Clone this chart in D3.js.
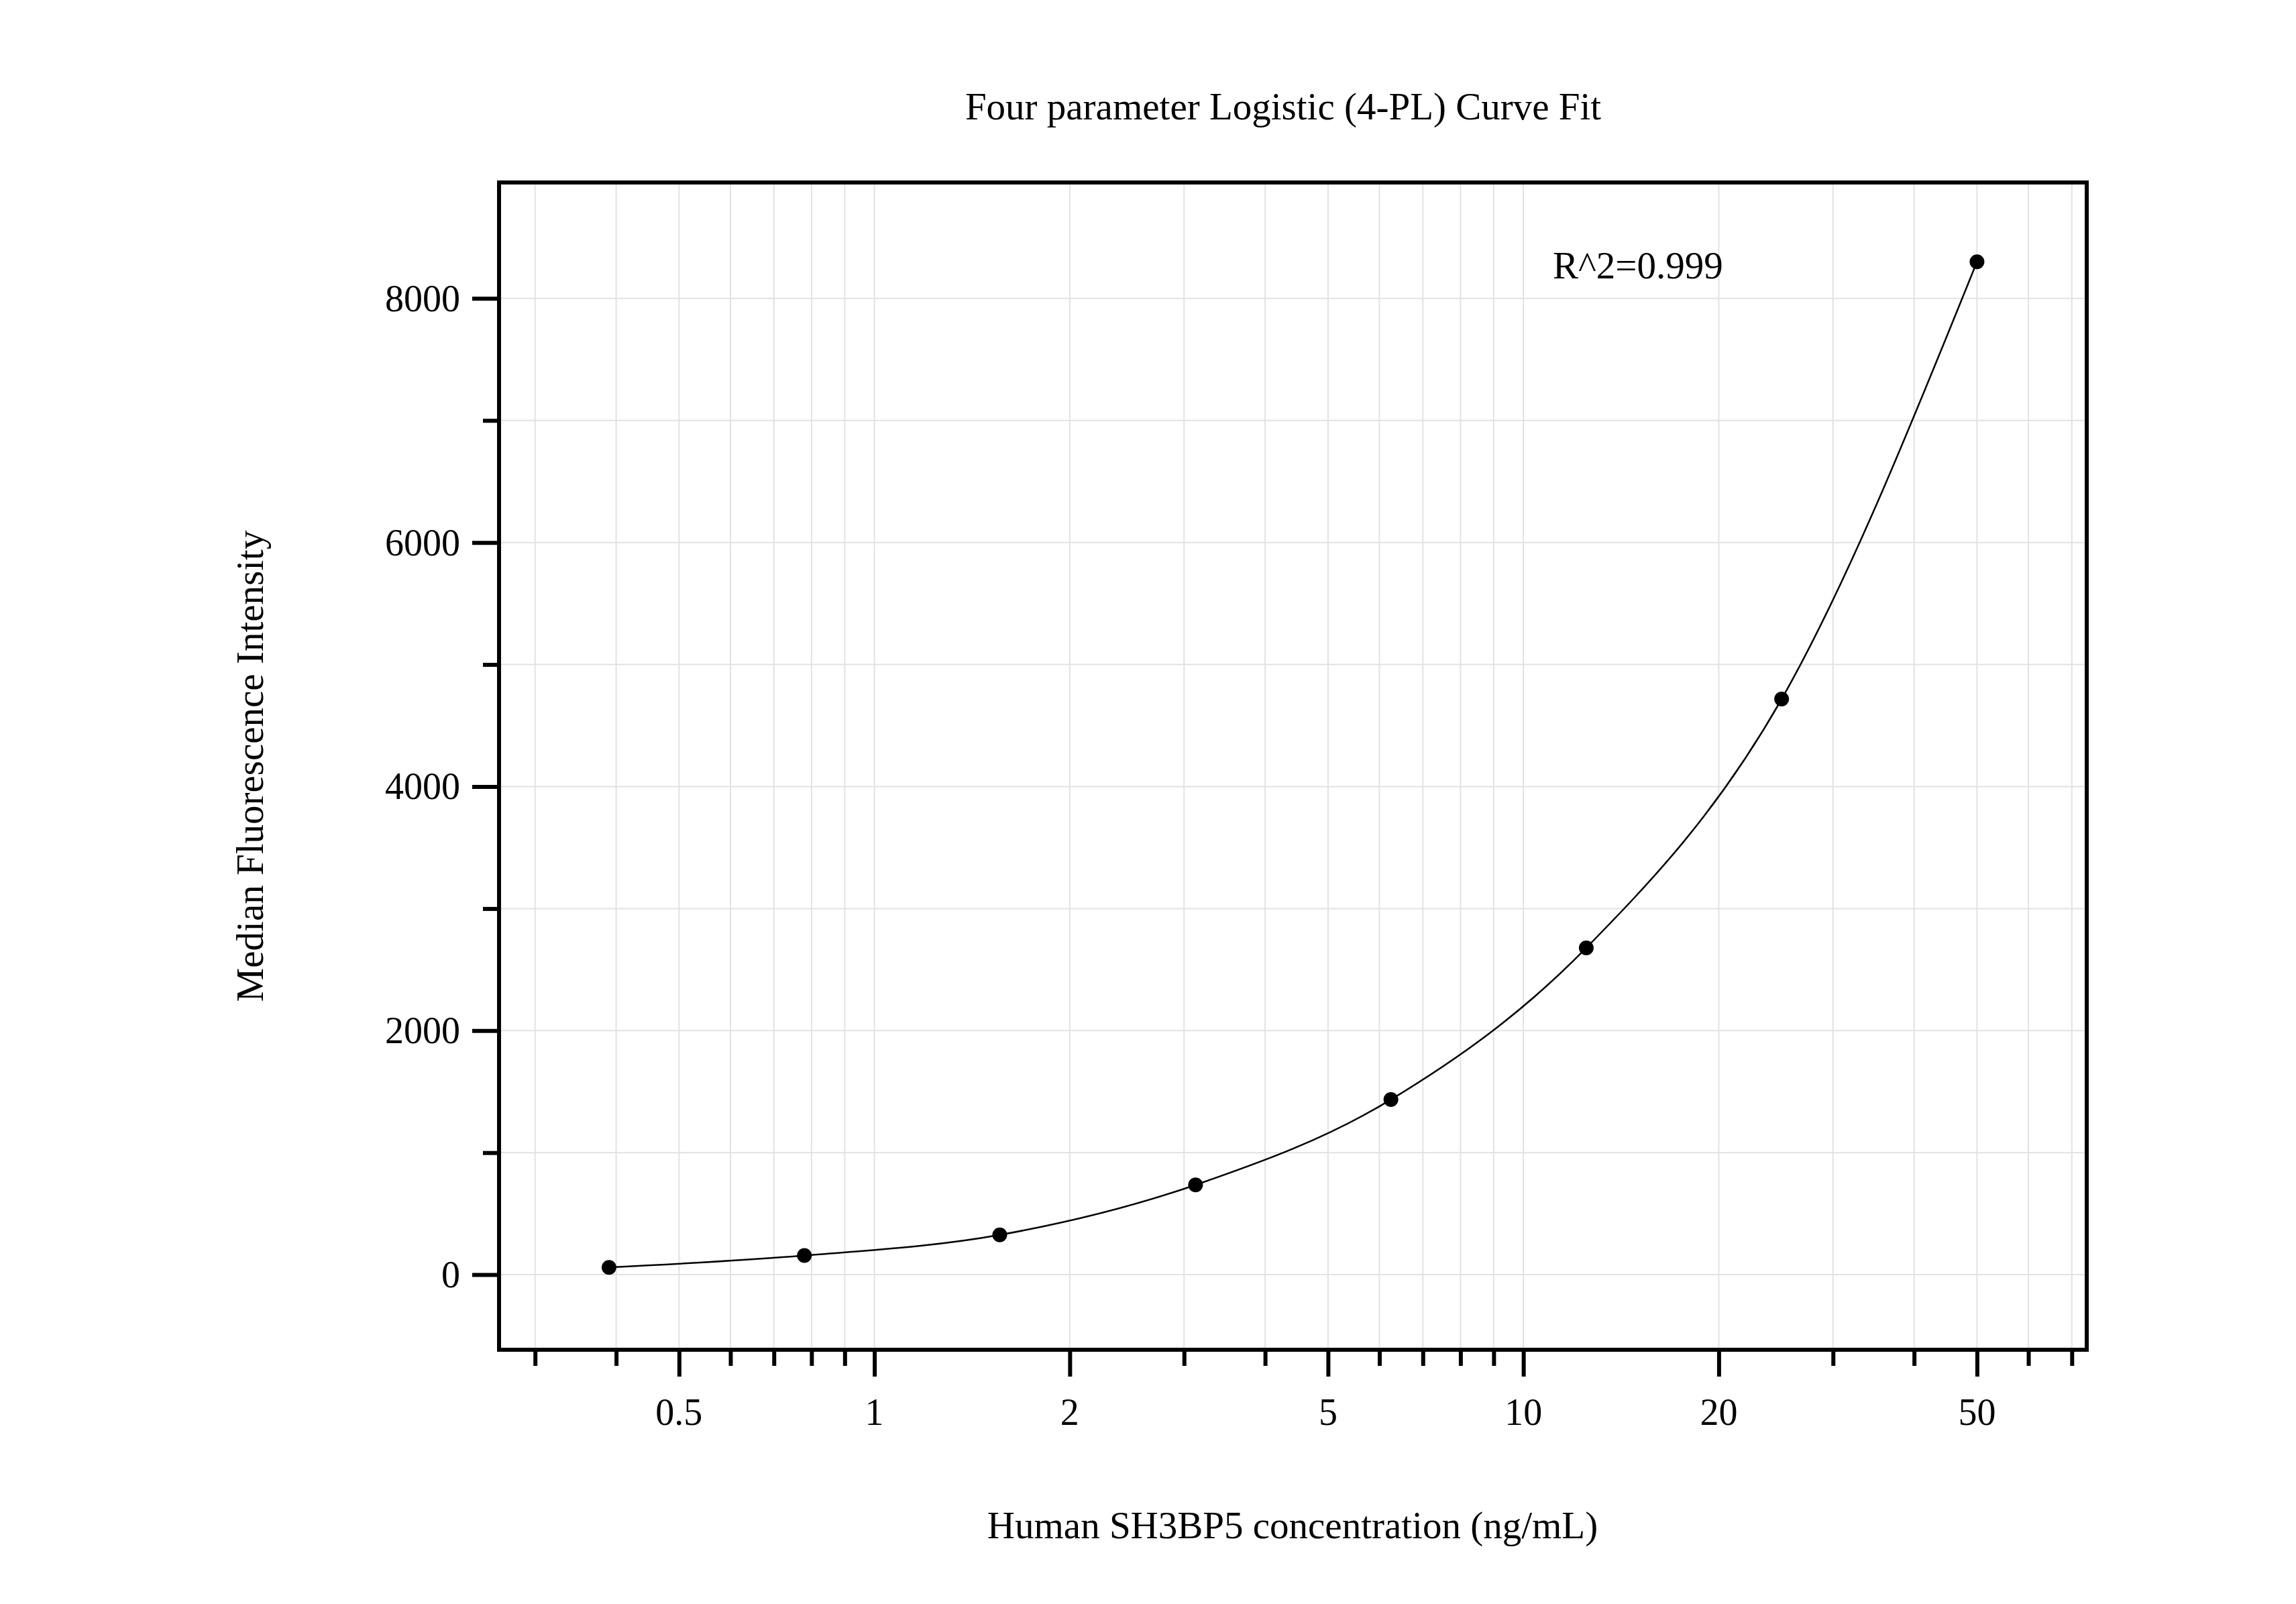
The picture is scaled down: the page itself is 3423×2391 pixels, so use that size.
<!DOCTYPE html>
<html><head><meta charset="utf-8">
<script src="https://cdn.jsdelivr.net/npm/d3@7"></script>
<style>body{margin:0;background:#fff}text{font-family:"Liberation Serif","Times New Roman",serif;fill:#000}</style>
</head><body>
<svg id="chart" width="3423" height="2391"></svg>
<script>
const conc = [0.39, 0.78, 1.56, 3.125, 6.25, 12.5, 25, 50];
const mfi = [60, 157, 326, 736, 1435, 2678, 4717, 8300];
const xMajor = [0.5, 1, 2, 5, 10, 20, 50];
const yMajor = [0, 2000, 4000, 6000, 8000];

const L = 744, R = 3111, T = 272, B = 2012;
const svg = d3.select("#chart");
const x = d3.scaleLog().domain([0.264, 73.8]).range([L, R]);
const y = d3.scaleLinear().domain([-615, 8950]).range([B, T]);

// minor log ticks 0.3..70
const xMinor = [];
[0.1, 1, 10].forEach(d => { for (let k = 1; k <= 9; k++) { const v = +(d * k).toPrecision(3); if (v >= 0.3 && v <= 70) xMinor.push(v); } });
const yMinor = d3.range(0, 9000, 1000);

svg.append("g").selectAll("line").data(xMinor).enter().append("line")
  .attrs ? null : null;
const grid = svg.append("g").attr("stroke", "#e2e2e2").attr("stroke-width", 2);
xMinor.forEach(v => grid.append("line").attr("x1", x(v)).attr("x2", x(v)).attr("y1", T).attr("y2", B));
yMinor.forEach(v => grid.append("line").attr("x1", L).attr("x2", R).attr("y1", y(v)).attr("y2", y(v)));

// bottom axis
const xAxis = svg.append("g").attr("transform", `translate(0,${B})`)
  .call(d3.axisBottom(x).tickValues(xMinor).tickSize(24).tickFormat(""));
xAxis.selectAll(".tick line").attr("stroke-width", 6)
  .attr("y2", d => xMajor.includes(d) ? 40 : 24);
xAxis.select(".domain").remove();
svg.append("g").selectAll("text").data(xMajor).enter().append("text")
  .attr("x", d => x(d)).attr("y", 2124).attr("text-anchor", "middle")
  .attr("font-size", 56).text(d => d);

// left axis
const yAxis = svg.append("g").attr("transform", `translate(${L},0)`)
  .call(d3.axisLeft(y).tickValues(yMinor).tickSize(24).tickFormat(""));
yAxis.selectAll(".tick line").attr("stroke-width", 6)
  .attr("x2", d => yMajor.includes(d) ? -40 : -24);
yAxis.select(".domain").remove();
svg.append("g").selectAll("text").data(yMajor).enter().append("text")
  .attr("x", 686).attr("y", d => y(d) + 19).attr("text-anchor", "end")
  .attr("font-size", 56).text(d => d);

// frame
svg.append("rect").attr("x", L).attr("y", T).attr("width", R - L).attr("height", B - T)
  .attr("fill", "none").attr("stroke", "#000").attr("stroke-width", 6);

// curve and points
svg.append("path").datum(conc.map((c, i) => [c, mfi[i]]))
  .attr("fill", "none").attr("stroke", "#000").attr("stroke-width", 2.5)
  .attr("d", d3.line().x(d => x(d[0])).y(d => y(d[1])).curve(d3.curveMonotoneX));
svg.append("g").selectAll("circle").data(conc).enter().append("circle")
  .attr("cx", d => x(d)).attr("cy", (d, i) => y(mfi[i])).attr("r", 11).attr("fill", "#000");

// texts
svg.append("text").attr("x", 1913).attr("y", 178).attr("text-anchor", "middle")
  .attr("font-size", 57).text("Four parameter Logistic (4-PL) Curve Fit");
svg.append("text").attr("x", 2315).attr("y", 415).attr("font-size", 57).text("R^2=0.999");
svg.append("text").attr("x", 1927).attr("y", 2293).attr("text-anchor", "middle")
  .attr("font-size", 57).text("Human SH3BP5 concentration (ng/mL)");
svg.append("text").attr("transform", "translate(392,1142) rotate(-90)").attr("text-anchor", "middle")
  .attr("font-size", 57).text("Median Fluorescence Intensity");
</script>
</body></html>
